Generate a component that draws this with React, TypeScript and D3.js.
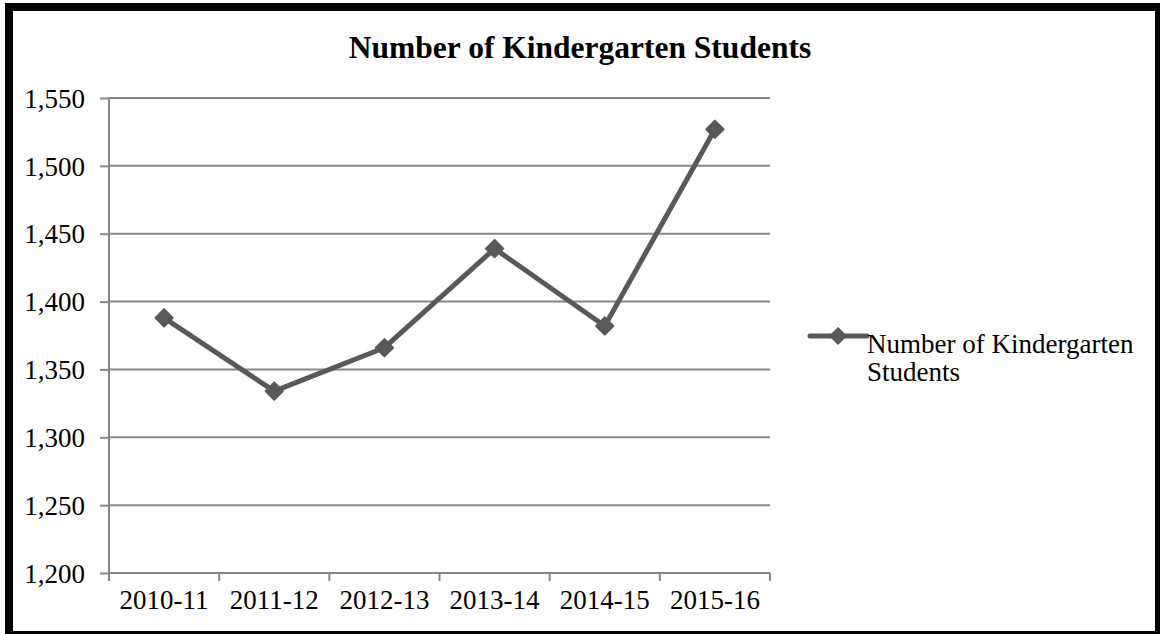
import React, { useEffect, useRef } from "react";
import * as d3 from "d3";

const categories = ["2010-11", "2011-12", "2012-13", "2013-14", "2014-15", "2015-16"];
const students = [1388, 1334, 1366, 1439, 1382, 1527];
const yTicks = [1200, 1250, 1300, 1350, 1400, 1450, 1500, 1550];
const seriesName = "Number of Kindergarten Students";

function App() {
  const svgRef = useRef<SVGSVGElement>(null);

  useEffect(() => {
    if (!svgRef.current) return;
    const width = 1160;
    const height = 634;
    const left = 109;
    const right = 770;
    const top = 98;
    const bottom = 573;
    const grey = "#868686";
    const lineColor = "#595959";
    const font = "'Liberation Serif', 'Times New Roman', serif";

    const svg = d3.select(svgRef.current).attr("width", width).attr("height", height);
    svg.selectAll("*").remove();

    svg.append("rect").attr("width", width).attr("height", height).attr("fill", "white");
    svg
      .append("rect")
      .attr("x", 9)
      .attr("y", 7)
      .attr("width", 1150)
      .attr("height", 628)
      .attr("fill", "none")
      .attr("stroke", "black")
      .attr("stroke-width", 8);

    const x = d3.scaleBand<string>().domain(categories).range([left, right]);
    const y = d3.scaleLinear().domain([1200, 1550]).range([bottom, top]);

    // gridlines
    svg
      .append("g")
      .selectAll("line")
      .data(yTicks.slice(1))
      .join("line")
      .attr("x1", left)
      .attr("x2", right)
      .attr("y1", (d) => y(d))
      .attr("y2", (d) => y(d))
      .attr("stroke", grey)
      .attr("stroke-width", 2);

    // y axis
    const yAxis = svg
      .append("g")
      .attr("transform", `translate(${left},0)`)
      .call(d3.axisLeft(y).tickValues(yTicks).tickSize(9).tickPadding(15).tickFormat(d3.format(",")));
    yAxis.select(".domain").attr("stroke", grey).attr("stroke-width", 2).attr("d", `M0,${bottom}V${top}`);
    yAxis.selectAll(".tick line").attr("stroke", grey).attr("stroke-width", 2);
    yAxis
      .selectAll(".tick text")
      .attr("fill", "black")
      .attr("font-family", font)
      .attr("font-size", 27)
      .attr("dy", "0.34em");

    // x axis
    const xAxis = svg
      .append("g")
      .attr("transform", `translate(0,${bottom})`)
      .call(d3.axisBottom(x).tickSize(0).tickPadding(17));
    xAxis.select(".domain").attr("stroke", grey).attr("stroke-width", 2).attr("d", `M${left},0H${right}`);
    xAxis
      .selectAll(".tick text")
      .attr("fill", "black")
      .attr("font-family", font)
      .attr("font-size", 27)
      .attr("dy", "0.71em");
    const edges = [...categories.map((c) => x(c) as number), right];
    svg
      .append("g")
      .selectAll("line")
      .data(edges)
      .join("line")
      .attr("x1", (d) => d)
      .attr("x2", (d) => d)
      .attr("y1", bottom)
      .attr("y2", bottom + 8)
      .attr("stroke", grey)
      .attr("stroke-width", 2);

    // series
    const cx = (c: string) => (x(c) as number) + x.bandwidth() / 2;
    const line = d3
      .line<number>()
      .x((_, i) => cx(categories[i]))
      .y((d) => y(d));
    svg
      .append("path")
      .datum(students)
      .attr("d", line)
      .attr("fill", "none")
      .attr("stroke", lineColor)
      .attr("stroke-width", 5)
      .attr("stroke-linejoin", "round");

    const diamond = d3.symbol().type(d3.symbolDiamond2).size(190);
    svg
      .append("g")
      .selectAll("path")
      .data(students)
      .join("path")
      .attr("d", diamond)
      .attr("transform", (d, i) => `translate(${cx(categories[i])},${y(d)})`)
      .attr("fill", lineColor)
      .attr("stroke", lineColor)
      .attr("stroke-width", 2)
      .attr("stroke-linejoin", "round");

    // title
    svg
      .append("text")
      .attr("x", 580)
      .attr("y", 58)
      .attr("text-anchor", "middle")
      .attr("font-family", font)
      .attr("font-weight", "bold")
      .attr("font-size", 31.5)
      .text(seriesName);

    // legend
    const lg = svg.append("g").attr("transform", "translate(810,336)");
    lg.append("line")
      .attr("x1", 0)
      .attr("x2", 57)
      .attr("stroke", lineColor)
      .attr("stroke-width", 5)
      .attr("stroke-linecap", "round");
    lg.append("path")
      .attr("d", d3.symbol().type(d3.symbolDiamond2).size(150))
      .attr("transform", "translate(28,0)")
      .attr("fill", lineColor)
      .attr("stroke", lineColor)
      .attr("stroke-width", 2);
    const lt = lg
      .append("text")
      .attr("font-family", font)
      .attr("font-size", 27)
      .attr("fill", "black");
    lt.append("tspan").attr("x", 57).attr("y", 17).text("Number of Kindergarten");
    lt.append("tspan").attr("x", 57).attr("y", 45).text("Students");
  }, []);

  return <svg ref={svgRef} style={{ position: "absolute", left: 0, top: 0, display: "block" }} />;
}

export default App;
